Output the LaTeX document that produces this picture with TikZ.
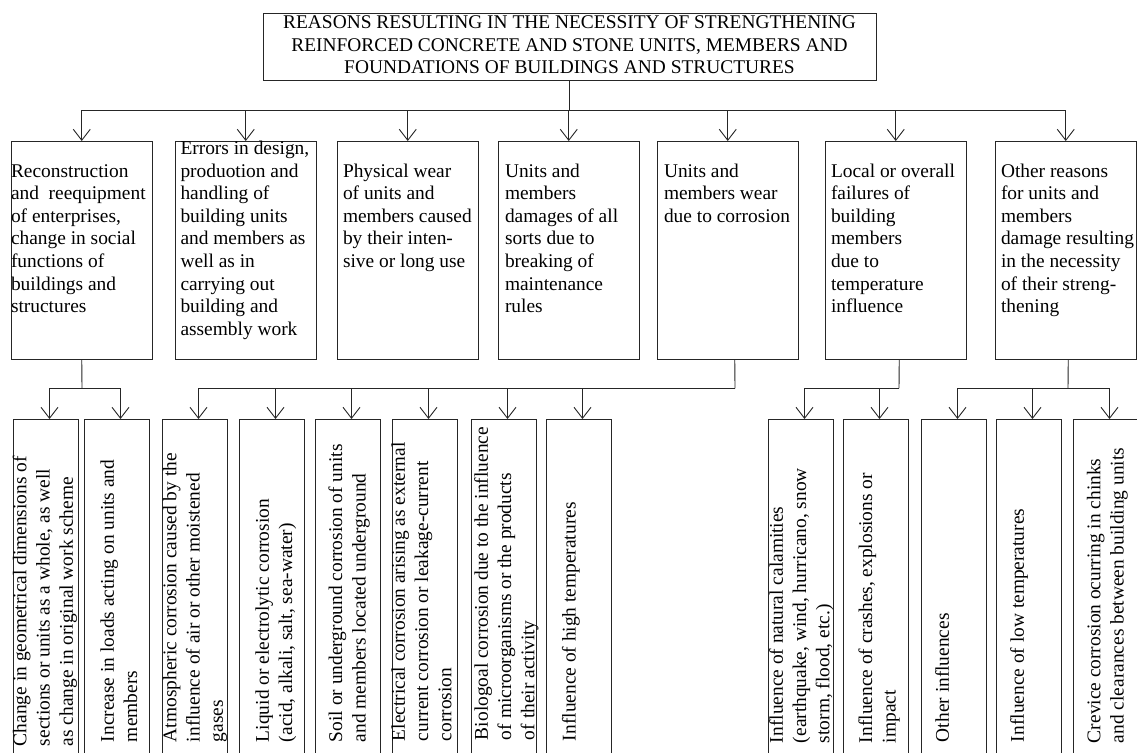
\documentclass[tikz,border=0pt]{standalone}
\usepackage{fontspec}
\setmainfont{Liberation Serif}
\usetikzlibrary{arrows.meta}
\tikzset{
  frame/.style={draw=black!85, line width=0.9pt, inner sep=0pt, outer sep=0pt, anchor=north west},
  conn/.style={draw=black!85, line width=0.9pt},
  arr/.style={conn, -{Straight Barb[length=11pt,width=17pt]}},
  txt/.style={inner sep=0pt, outer sep=0pt, anchor=north west, align=left, font=\fontsize{19.4}{22.6}\selectfont},
  ttl/.style={inner sep=0pt, outer sep=0pt, anchor=north, align=center, font=\fontsize{19.4}{22.5}\selectfont},
  vtxt/.style={inner sep=0pt, outer sep=0pt, anchor=north west, align=left, rotate=90, font=\fontsize{19.4}{23.3}\selectfont},
  mbox/.style={frame, minimum width=141.5pt, minimum height=218pt},
  bbox/.style={frame, minimum width=65pt, minimum height=360pt},
}
\begin{document}
\begin{tikzpicture}[x=1pt,y=-1pt]
\useasboundingbox (0,0) rectangle (1137,752);
\fill[white] (0,0) rectangle (1137,752);
\clip (0,0) rectangle (1137,752);

% title
\node[frame, minimum width=613pt, minimum height=67pt] (title) at (263,13) {};
\node[ttl] (titletxt) at (569.5,13.2) {\strut REASONS RESULTING IN THE NECESSITY OF STRENGTHENING\\REINFORCED CONCRETE AND STONE UNITS, MEMBERS AND\\FOUNDATIONS OF BUILDINGS AND STRUCTURES};

% middle boxes
\node[mbox] (m1) at (11,141) {};
\node[mbox] (m2) at (175,141) {};
\node[mbox] (m3) at (337,141) {};
\node[mbox] (m4) at (498,141) {};
\node[mbox] (m5) at (657,141) {};
\node[mbox] (m6) at (825,141) {};
\node[mbox] (m7) at (995,141) {};

\node[txt] (t1) at (11,161.2) {\strut Reconstruction\\and\ \ reequipment\\of enterprises,\\change in social\\functions of\\buildings and\\structures};
\node[txt] (t2) at (180.5,138.6) {\strut Errors in design,\\produotion and\\handling of\\building units\\and members as\\well as in\\carrying out\\building and\\assembly work};
\node[txt] (t3) at (343,161.2) {\strut Physical wear\\of units and\\members caused\\by their inten-\\sive or long use};
\node[txt] (t4) at (505,161.2) {\strut Units and\\members\\damages of all\\sorts due to\\breaking of\\maintenance\\rules};
\node[txt] (t5) at (664,161.2) {\strut Units and\\members wear\\due to corrosion};
\node[txt] (t6) at (831,161.2) {\strut Local or overall\\failures of\\building\\members\\due to\\temperature\\influence};
\node[txt] (t7) at (1001,161.2) {\strut Other reasons\\for units and\\members\\damage resulting\\in the necessity\\of their streng-\\thening};

% bottom boxes
\node[bbox] (bA) at (13,419) {};
\node[bbox] (bB) at (84,419) {};
\node[bbox] (bC) at (162,419) {};
\node[bbox] (bD) at (239,419) {};
\node[bbox] (bE) at (315,419) {};
\node[bbox] (bF) at (392,419) {};
\node[bbox] (bG) at (471,419) {};
\node[bbox] (bH) at (546,419) {};
\node[bbox] (bI) at (768,419) {};
\node[bbox] (bJ) at (843,419) {};
\node[bbox] (bK) at (921,419) {};
\node[bbox] (bL) at (996,419) {};
\node[bbox] (bM) at (1073,419) {};

\node[vtxt] (vA) at (10,746) {\strut Change in geometrical dimensions of\\sections or units as a whole, as well\\as change in original work scheme};
\node[vtxt] (vB) at (97.5,742) {\strut Increase in loads acting on units and\\members};
\node[vtxt] (vC) at (160,742) {\strut Atmospheric corrosion caused by the\\influence of air or other moistened\\gases};
\node[vtxt] (vD) at (252.5,742) {\strut Liquid or electrolytic corrosion\\(acid, alkali, salt, sea-water)};
\node[vtxt] (vE) at (325.9,742) {\strut Soil or underground corrosion of units\\and members located underground};
\node[vtxt] (vF) at (388.5,741) {\strut Electrical corrosion arising as external\\current corrosion or leakage-current\\corrosion};
\node[vtxt] (vG) at (471.5,740) {\strut Biologoal corrosion due to the influence\\of microorganisms or the products\\of their activity};
\node[vtxt] (vH) at (559.2,741) {\strut Influence of high temperatures};
\node[vtxt] (vI) at (766.5,743) {\strut Influence of natural calamities\\(earthquake, wind, hurricano, snow\\storm, flood, etc.)};
\node[vtxt] (vJ) at (855.9,743) {\strut Influence of crashes, explosions or\\impact};
\node[vtxt] (vK) at (932.5,742) {\strut Other influences};
\node[vtxt] (vL) at (1007.5,742) {\strut Influence of low temperatures};
\node[vtxt] (vM) at (1084,743) {\strut Crevice corrosion ocurring in chinks\\and clearances between building units};

% upper connectors
\coordinate (hub) at (569.5,110);
\draw[conn] (title.south) -- (hub);
\foreach \m in {m1,m2,m3,m4,m5,m6,m7}{
  \draw[arr] (hub) -| (\m.north);
}

% lower connectors
\coordinate (j1) at (82,388);
\draw[conn] (m1.south) -- (j1);
\draw[arr] (j1) -| ([xshift=4pt]bA.north);
\draw[arr] (j1) -| ([xshift=4pt]bB.north);

\coordinate (j5) at (735,388);
\draw[conn] ([xshift=7pt]m5.south) -- (j5);
\foreach \b in {bC,bD,bE,bF,bG,bH}{
  \draw[arr] (j5) -| ([xshift=4pt]\b.north);
}

\coordinate (j6) at (899,388);
\draw[conn] ([xshift=3.5pt]m6.south) -- (j6);
\draw[arr] (j6) -| ([xshift=4pt]bI.north);
\draw[arr] (j6) -| ([xshift=4pt]bJ.north);

\coordinate (j7) at (1068,388);
\draw[conn] ([xshift=2.5pt]m7.south) -- (j7);
\foreach \b in {bK,bL,bM}{
  \draw[arr] (j7) -| ([xshift=4pt]\b.north);
}
\end{tikzpicture}
\end{document}
